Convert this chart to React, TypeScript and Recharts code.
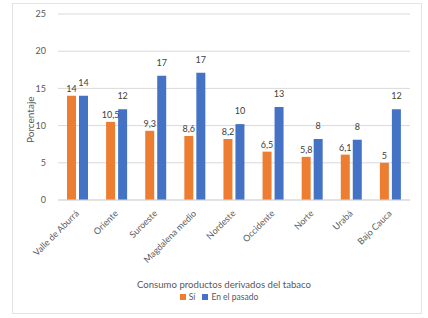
import { Bar, BarChart, CartesianGrid, LabelList, XAxis, YAxis } from 'recharts';

const regions = [
  'Valle de Aburrá',
  'Oriente',
  'Suroeste',
  'Magdalena medio',
  'Nordeste',
  'Occidente',
  'Norte',
  'Urabá',
  'Bajo Cauca',
];
const si = [14, 10.5, 9.3, 8.6, 8.2, 6.5, 5.8, 6.1, 5];
const pasado = [14, 12.2, 16.7, 17.1, 10.2, 12.5, 8.2, 8.1, 12.2];
const yTicks = [0, 5, 10, 15, 20, 25];

const FONT = 'Lato, "Open Sans", sans-serif';
const ORANGE = '#ED7D31';
const BLUE = '#4472C4';
const TEXT = '#595959';

const data = regions.map((name, i) => ({ name, si: si[i], pasado: pasado[i] }));

const RegionTick = (props: any) => {
  const { x, y, payload } = props;
  return (
    <text
      x={x + 2}
      y={y + 6}
      transform={`rotate(-45, ${x + 2}, ${y + 6})`}
      textAnchor="end"
      fontSize={9}
      fill={TEXT}
      fontFamily={FONT}
    >
      {payload.value}
    </text>
  );
};

const legendItems = [
  { c: ORANGE, t: 'Sí' },
  { c: BLUE, t: 'En el pasado' },
];

export default function App() {
  return (
    <div style={{ position: 'absolute', left: 0, top: 0, width: 428, height: 318, background: '#fff' }}>
      <div
        style={{
          position: 'absolute',
          left: 12,
          top: 3,
          width: 408,
          height: 309,
          border: '1px solid #e3e3e3',
        }}
      />
      <BarChart
        width={428}
        height={318}
        data={data}
        margin={{ top: 14, right: 18, left: 0, bottom: 48 }}
        barSize={9}
        barGap={3}
        style={{ position: 'absolute', left: 0, top: 0 }}
      >
        <CartesianGrid vertical={false} stroke="#d9d9d9" />
        <XAxis
          dataKey="name"
          interval={0}
          height={70}
          tickLine={false}
          axisLine={{ stroke: '#d9d9d9' }}
          tick={<RegionTick />}
          label={{
            value: 'Consumo productos derivados del tabaco',
            position: 'insideBottom',
            offset: -18,
            dx: -10,
            fontSize: 9.6,
            fill: TEXT,
            fontFamily: FONT,
          }}
        />
        <YAxis
          width={58}
          domain={[0, 25]}
          ticks={yTicks}
          tickLine={false}
          axisLine={false}
          tick={{ fontSize: 9, fill: TEXT, fontFamily: FONT }}
          tickMargin={6}
          label={{
            value: 'Porcentaje',
            angle: -90,
            position: 'insideLeft',
            offset: 30,
            dy: 36,
            fontSize: 10,
            fill: TEXT,
            fontFamily: FONT,
          }}
        />
        <Bar dataKey="si" name="Sí" fill={ORANGE} isAnimationActive={false}>
          <LabelList
            dataKey="si"
            position="top"
            offset={4}
            fontSize={9}
            fill="#404040"
            fontFamily={FONT}
            formatter={(v: any) => String(v).replace('.', ',')}
          />
        </Bar>
        <Bar dataKey="pasado" name="En el pasado" fill={BLUE} isAnimationActive={false}>
          <LabelList
            dataKey="pasado"
            position="top"
            offset={10}
            fontSize={9}
            fill="#404040"
            fontFamily={FONT}
            formatter={(v: any) => String(Math.round(v))}
          />
        </Bar>
      </BarChart>
      <div
        style={{
          position: 'absolute',
          left: 0,
          top: 292,
          width: 438,
          display: 'flex',
          justifyContent: 'center',
          gap: 7,
          fontSize: 8.5,
          color: TEXT,
          fontFamily: FONT,
        }}
      >
        {legendItems.map((it) => (
          <span key={it.t} style={{ display: 'flex', alignItems: 'center', gap: 3 }}>
            <span style={{ width: 6, height: 6, background: it.c, display: 'inline-block' }} />
            {it.t}
          </span>
        ))}
      </div>
    </div>
  );
}
